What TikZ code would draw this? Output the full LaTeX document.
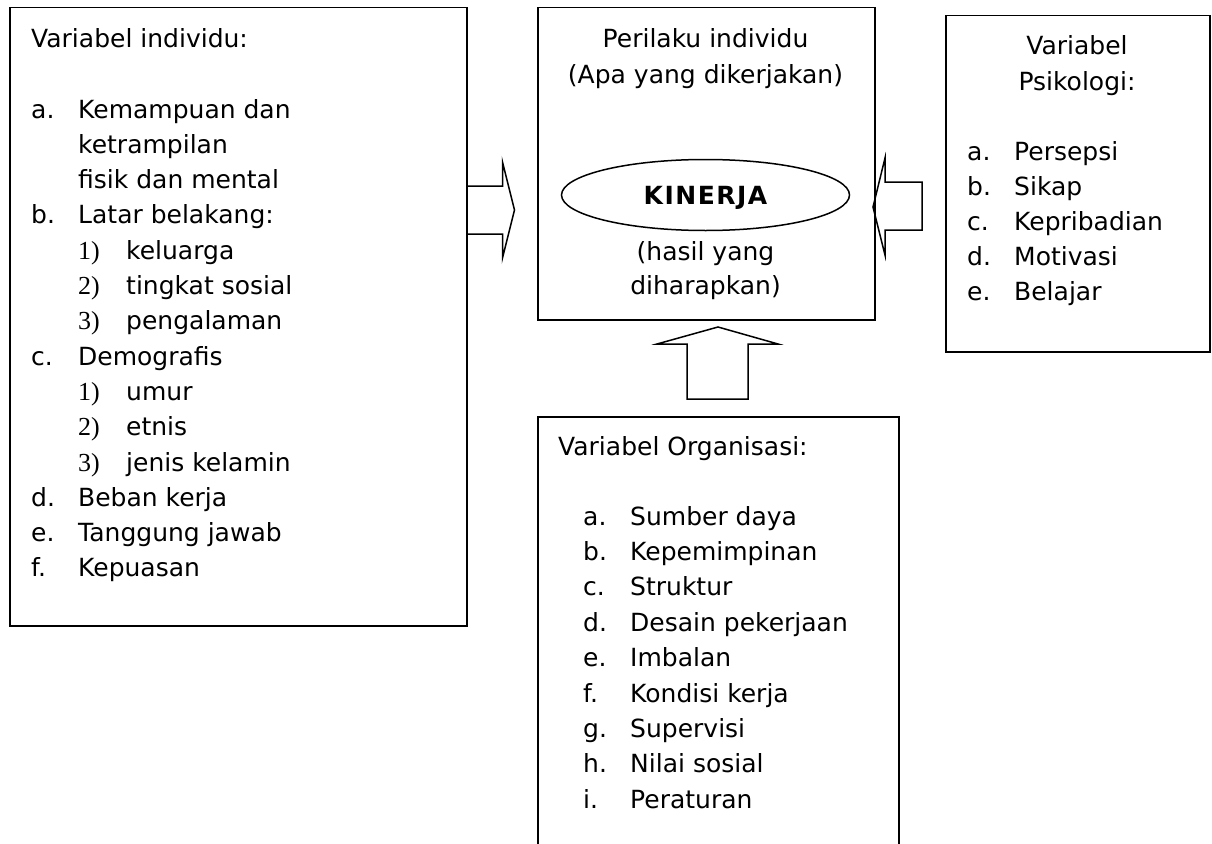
\documentclass[tikz,border=0pt]{standalone}
\usepackage{fontspec}
\setmainfont{DejaVu Sans}
\newfontfamily\numfont{Liberation Serif}
\usetikzlibrary{shapes.geometric,calc}

\tikzset{
  box/.style={draw, line width=1.5pt, rectangle, anchor=north west, inner sep=0pt},
  txt/.style={anchor=base west, inner sep=0pt},
  ctxt/.style={anchor=base, inner sep=0pt},
  blockarrow/.style={draw, line width=1.5pt, line join=miter},
}

\begin{document}
\begin{tikzpicture}[x=1pt,y=-1pt,font=\fontsize{25}{30}\selectfont]
\useasboundingbox (0,0) rectangle (1212,843);
\clip (0,0) rectangle (1212,843);
% boxes
\node[box, minimum width=457pt, minimum height=618pt] (indiv) at (9,7) {};
\node[box, minimum width=337pt, minimum height=312pt] (perilaku) at (537,7) {};
\node[box, minimum width=264pt, minimum height=336pt] (psiko) at (945,15) {};
\node[box, minimum width=361pt, minimum height=460pt] (org) at (537,416) {};
\node[draw, ellipse, line width=1.5pt, minimum width=288pt, minimum height=71pt,
      inner sep=0pt, text height=18pt, text depth=0pt,
      font=\fontsize{25}{30}\selectfont\bfseries\addfontfeature{LetterSpace=6}] (kinerja) at (705.5,195) {KINERJA};

% block arrows
\draw[blockarrow] ($(indiv.north east)+(0,179)$) -- ++(35,0) -- ++(0,-24) -- ++(12,48)
   -- ++(-12,48) -- ++(0,-24) -- ++(-35,0);
\draw[blockarrow] ($(psiko.north west)+(-23,167)$) -- ++(-37,0) -- ++(0,-24) -- ++(-12,49)
   -- ++(12,48) -- ++(0,-25) -- ++(37,0) -- cycle;
\draw[blockarrow] ($(org.north west)+(150,-17)$) -- ++(0,-55) -- ++(-30,0) -- ++(61,-17)
   -- ++(60,17) -- ++(-30,0) -- ++(0,55) -- cycle;

% variabel individu
\node[txt] (indivhead) at (31,48) {Variabel individu:};
\foreach \k/\l/\t in {0/a./Kemampuan dan, 3/b./Latar belakang:, 7/c./Demografis,
                      11/d./Beban kerja, 12/e./Tanggung jawab, 13/f./Kepuasan}{
  \node[txt] (indivl\k) at (31,{118+35.3*\k}) {\l};
  \node[txt] (indivt\k) at (78,{118+35.3*\k}) {\t};
}
\node[txt] (indivt1) at (78,{118+35.3*1}) {ketrampilan};
\node[txt] (indivt2) at (78,{118+35.3*2}) {fisik dan mental};
\foreach \k/\n/\t in {4/1)/keluarga, 5/2)/tingkat sosial, 6/3)/pengalaman,
                      8/1)/umur, 9/2)/etnis, 10/3)/jenis kelamin}{
  \node[txt] (indivn\k) at (78,{118+35.3*\k}) {\numfont\fontsize{26}{30}\selectfont\n};
  \node[txt] (indivt\k) at (126,{118+35.3*\k}) {\t};
}

% perilaku individu
\node[ctxt] (perilaku1) at (705.5,48) {Perilaku individu};
\node[ctxt] (perilaku2) at (705.5,83) {(Apa yang dikerjakan)};
\node[ctxt] (hasil1) at (705.5,260) {(hasil yang};
\node[ctxt] (hasil2) at (705.5,294) {diharapkan)};

% variabel psikologi
\node[ctxt] (psikohead1) at (1077,55) {Variabel};
\node[ctxt] (psikohead2) at (1077,90) {Psikologi:};
\foreach \k/\l/\t in {0/a./Persepsi, 1/b./Sikap, 2/c./Kepribadian, 3/d./Motivasi, 4/e./Belajar}{
  \node[txt] (psikol\k) at (967,{160+35.2*\k}) {\l};
  \node[txt] (psikot\k) at (1014,{160+35.2*\k}) {\t};
}

% variabel organisasi
\node[txt] (orghead) at (558,455) {Variabel Organisasi:};
\foreach \k/\l/\t in {0/a./Sumber daya, 1/b./Kepemimpinan, 2/c./Struktur, 3/d./Desain pekerjaan,
                      4/e./Imbalan, 5/f./Kondisi kerja, 6/g./Supervisi, 7/h./Nilai sosial, 8/i./Peraturan}{
  \node[txt] (orgl\k) at (583,{525+35.4*\k}) {\l};
  \node[txt] (orgt\k) at (630,{525+35.4*\k}) {\t};
}
\end{tikzpicture}
\end{document}
